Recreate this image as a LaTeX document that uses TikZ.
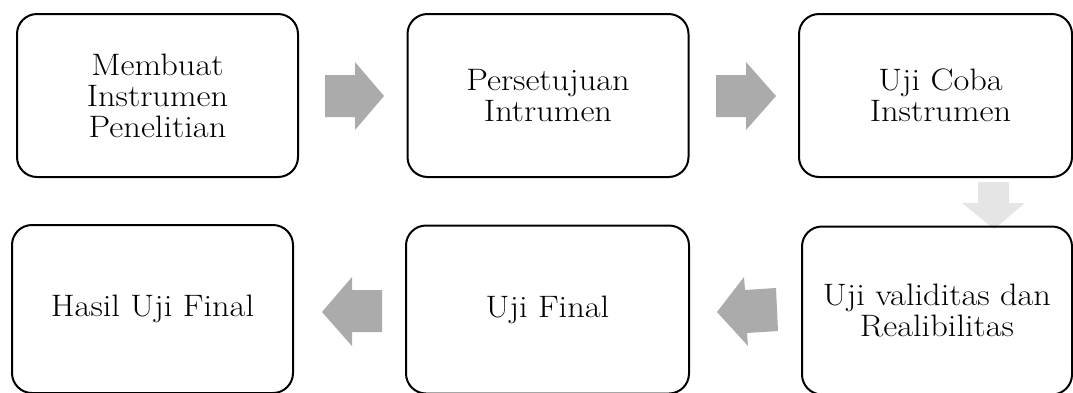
\documentclass[tikz,border=0pt]{standalone}
\usepackage{fontspec}
\setmainfont{Latin Modern Roman}[FakeStretch=1.11]
\tikzset{
  stepbox/.style={draw=black, line width=2pt, rounded corners=20pt, align=center,
    font=\fontsize{31}{31}\selectfont, inner sep=0pt},
  darkarrow/.style={fill=black!33, draw=none},
  lightarrow/.style={fill=black!10, draw=none},
}
\begin{document}
\begin{tikzpicture}[x=1pt,y=-1pt]
\useasboundingbox (0,0) rectangle (1073,392);
% block arrows
\fill[darkarrow] (325,75) -- (355,75) -- (355,62) -- (384,96) -- (355,130) -- (355,117) -- (325,117) -- cycle;
\fill[darkarrow] (716,75) -- (746,75) -- (746,62) -- (776,96) -- (746,130) -- (746,117) -- (716,117) -- cycle;
\fill[lightarrow] (978,182) -- (1009,182) -- (1009,203) -- (1025,203) -- (994,229) -- (962,203) -- (978,203) -- cycle;
\fill[darkarrow] (776,288) -- (778,331) -- (747,333) -- (748,346) -- (717,312) -- (744,277) -- (745,290) -- cycle;
\fill[darkarrow] (382,290) -- (382,332) -- (352,332) -- (352,346) -- (322,312) -- (352,277) -- (352,290) -- cycle;
% boxes
\node[stepbox, minimum width=281pt, minimum height=163pt] (b1) at (157.5,95.5) {Membuat\\Instrumen\\Penelitian};
\node[stepbox, minimum width=281pt, minimum height=163pt] (b2) at (548,95.5) {Persetujuan\\Intrumen};
\node[stepbox, minimum width=273pt, minimum height=163pt] (b3) at (935.5,95.5) {\hspace*{10pt}Uji Coba\\\hspace*{10pt}Instrumen};
\node[stepbox, minimum width=281pt, minimum height=168pt] (b4) at (152.5,309) {Hasil Uji Final};
\node[stepbox, minimum width=283pt, minimum height=168pt] (b5) at (547.5,309.5) {Uji Final};
\node[stepbox, minimum width=270pt, minimum height=168pt] (b6) at (937,310.5) {Uji validitas dan\\Realibilitas};
\end{tikzpicture}
\end{document}
